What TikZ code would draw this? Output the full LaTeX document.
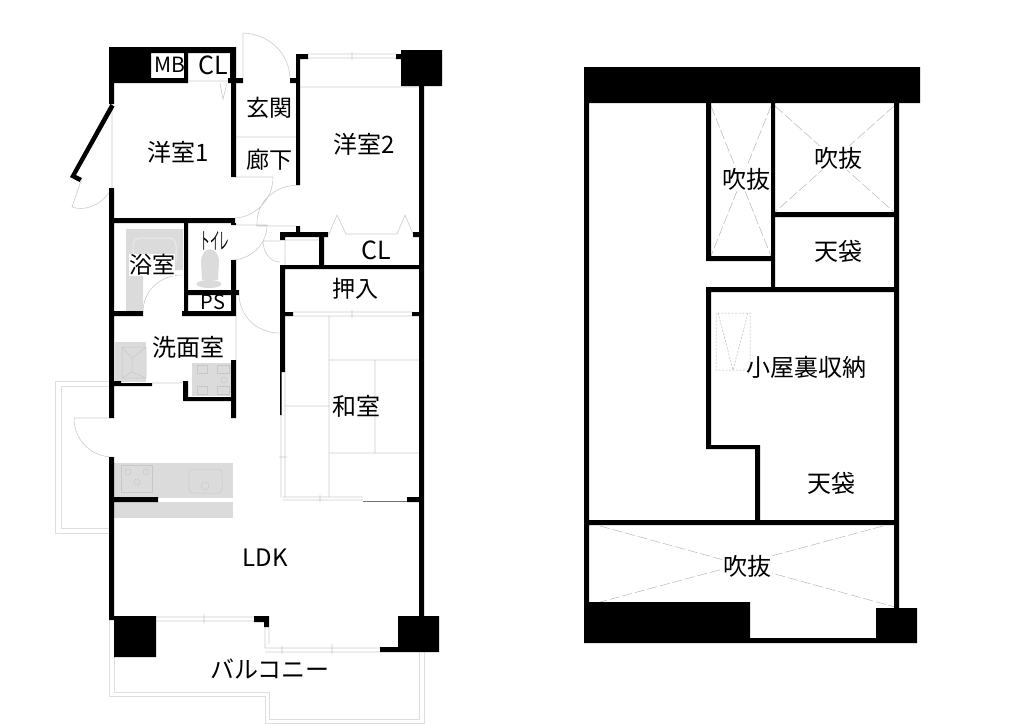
\documentclass[tikz,border=0pt]{standalone}
\usepackage{fontspec}
\setmainfont{Noto Sans CJK JP}
\begin{document}
\begin{tikzpicture}[x=1pt,y=-1pt,
                    wall/.style={fill=black},
                    thin line/.style={draw=black!20,line width=0.6pt},
                    rail/.style={draw=black!13,line width=1pt},
                    fixture/.style={fill=black!14},
                    fixture line/.style={draw=black!22,line width=0.5pt},
                    void line/.style={draw=black!28,line width=0.5pt,dash pattern=on 10pt off 3pt},
                    room/.style={font=\fontsize{24}{24}\selectfont,inner sep=0pt},
                    small room/.style={font=\fontsize{23}{23}\selectfont,inner sep=0pt},
                    masked room/.style={room,fill=white,inner sep=1pt}]

  \useasboundingbox[fill=white] (0,0) rectangle (1024,723);

  % balconies
  \path[rail]
    (109,381) -- (55,381) -- (55,533) -- (109,533)
    (109,386) -- (61,386) -- (61,528) -- (109,528)
    (109,620) -- (109,696) -- (265,696) -- (265,723) -- (424,723) -- (424,652)
    (114,657) -- (114,692) -- (269,692) -- (269,719) -- (419,719) -- (419,652);

  % fixtures
  \fill[fixture] (126,229) -- (183,229) -- (183,270) -- (143,270) -- (143,312) -- (126,312) -- cycle;
  \draw[draw=black!8,line width=1pt,rounded corners=7pt] (133,262) -- (133,238) -- (176,238) -- (176,262);
  \fill[fixture] (201,262) .. controls (201,245) and (219,245) .. (219,262) -- (218,280) -- (202,280) -- cycle;
  \fill[fixture] (209,284) ellipse (12.5 and 4);
  \fill[fixture] (115,342) rectangle (146,382);
  \path[fixture line] (122,347) rectangle (146,378) (122,347) -- (132,358) -- (132,372) -- (122,378) (146,347) -- (132,358) (132,372) -- (146,378);
  \fill[fixture] (192,363) rectangle (231,396);
  \path[fixture line] (197,365) rectangle (207,373) (217,365) rectangle (229,373) (197,386) rectangle (207,394) (217,386) rectangle (229,394);
  \draw[fixture line] (224,380) circle (3);
  \fill[fixture] (114,463) rectangle (233,498);
  \fill[fixture] (114,502) rectangle (233,518);
  \path[fixture line] (121,465) rectangle (152,492);
  \draw[fixture line] (128,472) circle (3) (146,472) circle (3) (137,482) circle (3);
  \draw[fixture line,rounded corners=4pt] (189,469) rectangle (222,493);
  \draw[fixture line] (205,486) circle (4);

  % thin lines of floors, windows and doors
  \path[thin line]
    (236,137) -- (296,137)
    (300,87) -- (419,87)
    (112,104) -- (112,187)
    (236,316) -- (236,360)
    (152,383) -- (183,383)
    (308,54) -- (396,54) (308,58) -- (396,58) (352,52) -- (352,60)
    (293,312) -- (412,312) (293,316) -- (412,316) (352,310) -- (352,318)
    (329,316) -- (329,497)
    (375,360) -- (375,453)
    (329,360) -- (419,360)
    (329,453) -- (419,453)
    (285,406) -- (329,406)
    (285,372) -- (285,497)
    (281,415) -- (281,497) (279,457) -- (287,457)
    (283,497) -- (363,497) (283,500) -- (363,500) (320,495) -- (320,502)
    (156,617) -- (254,617) (156,621) -- (254,621) (204,614) -- (204,623)
    (265,622) -- (265,648) (269,627) -- (269,644)
    (265,648) -- (380,648) (265,652) -- (380,652) (282,646) -- (282,654) (332,644) -- (332,654)
    (188,81) -- (230,81) (220,83) -- (223,99) -- (227,83)
    (329,234) -- (337,215) -- (346,234) -- (397,234) -- (405,215) -- (413,234)
    (285,240) -- (285,265) (285,240) -- (319,240);
  \path[thin line]
    (243,78) -- (243,33) .. controls (268,34) and (289,52) .. (290,78)
    (82,178) -- (72,207) .. controls (85,212) and (105,204) .. (112,187)
    (235,177) -- (273,177) .. controls (273,200) and (255,217) .. (235,218)
    (300,185) .. controls (274,185) and (257,202) .. (257,223) -- (257,226) -- (296,226)
    (236,225) -- (267,225) .. controls (267,245) and (250,260) .. (231,260)
    (280,241) -- (263,241) .. controls (263,252) and (270,262) .. (280,262)
    (239,295) .. controls (240,317) and (257,333) .. (280,333)
    (143,312) .. controls (143,291) and (160,275) .. (182,275)
    (109,418) -- (74,418) .. controls (74,440) and (91,457) .. (113,457);

  % walls
  \path[wall]
    (109,47) rectangle (236,53)
    (109,53) rectangle (151,83)
    (151,78) rectangle (188,83)
    (184,53) rectangle (188,83)
    (230,53) rectangle (236,80)
    (231,80) rectangle (236,177)
    (228,78) rectangle (243,83)
    (109,83) rectangle (114,104)
    (109,188) rectangle (114,418)
    (109,457) rectangle (114,620)
    (109,218) rectangle (235,223)
    (231,223) rectangle (236,225)
    (184,223) rectangle (188,315)
    (231,260) rectangle (236,316)
    (184,290) rectangle (239,295)
    (182,311) rectangle (236,316)
    (109,311) rectangle (143,316)
    (114,381) rectangle (121,386)
    (121,383) rectangle (152,386)
    (183,381) rectangle (188,401)
    (183,397) rectangle (236,401)
    (231,360) rectangle (236,418)
    (109,497) rectangle (158,502)
    (114,616) rectangle (156,657)
    (254,616) rectangle (269,622)
    (264,616) rectangle (269,627)
    (398,616) rectangle (439,652)
    (380,647) rectangle (398,652)
    (419,85) rectangle (424,617)
    (401,50) rectangle (442,86)
    (296,54) rectangle (300,185)
    (296,54) rectangle (308,59)
    (396,54) rectangle (401,59)
    (290,78) rectangle (296,83)
    (296,226) rectangle (300,232)
    (280,232) rectangle (328,237)
    (413,232) rectangle (419,237)
    (319,232) rectangle (324,265)
    (280,265) rectangle (424,269)
    (280,232) rectangle (285,240)
    (280,265) rectangle (285,372)
    (280,372) rectangle (281.5,415)
    (285,312) rectangle (293,316)
    (412,312) rectangle (419,316)
    (407,497) rectangle (424,502);
  \fill[black!55] (363,500.5) rectangle (407,502);
  \fill[wall] (110.5,104) -- (114.5,106.5) -- (76,175) -- (82,178) -- (79.5,182) -- (70,177) -- cycle;

  % upper floor
  \path[void line]
    (711,106) -- (771,256) (771,106) -- (711,256)
    (775,106) -- (894,212) (894,106) -- (775,212)
    (600,526) -- (895,607) (883,526) -- (600,602);
  \draw[void line,dash pattern=on 2pt off 1.5pt] (716,313) rectangle (750,370)
    (718,313) -- (733,370) -- (748,313);
  \path[wall]
    (584,67) rectangle (920,103)
    (584,103) rectangle (589,602)
    (706,103) rectangle (711,261)
    (706,256) rectangle (775,261)
    (771,103) rectangle (775,292)
    (894,103) rectangle (899,608)
    (771,212) rectangle (899,217)
    (706,287) rectangle (899,292)
    (706,292) rectangle (711,449)
    (706,445) rectangle (760,449)
    (755,449) rectangle (760,525)
    (584,520) rectangle (899,525)
    (584,602) rectangle (750,643)
    (750,638) rectangle (876,643)
    (876,608) rectangle (917,643);

  % labels
  \node[small room,font=\fontsize{21}{21}\selectfont] (mb) at (170,65) {MB};
  \node[small room,font=\fontsize{25}{25}\selectfont] (cl1) at (213,65) {CL};
  \node[small room] (genkan) at (269,108) {玄関};
  \node[small room] (roka) at (269,160) {廊下};
  \node[room] (yoshitsu1) at (178,152) {洋室1};
  \node[room] (yoshitsu2) at (364,144) {洋室2};
  \node[small room,fill=white] (yokushitsu) at (152,265) {浴室};
  \node[small room] (toilet) at (215,241) {\scalebox{0.42}[1]{トイレ}};
  \node[small room,font=\fontsize{20}{20}\selectfont] (ps) at (213,302) {PS};
  \node[small room,font=\fontsize{25}{25}\selectfont] (cl2) at (376,250) {CL};
  \node[small room] (oshiire) at (355,289) {押入};
  \node[room] (senmen) at (188,347) {洗面室};
  \node[room] (washitsu) at (356,406) {和室};
  \node[room] (ldk) at (265,558) {LDK};
  \node[room] (balcony) at (270,669) {バルコニー};
  \node[masked room] (fukinuke1) at (746,179) {吹抜};
  \node[masked room] (fukinuke2) at (838,158) {吹抜};
  \node[room] (tenbukuro1) at (838,251) {天袋};
  \node[room] (koyaura) at (806,367) {小屋裏収納};
  \node[room] (tenbukuro2) at (831,483) {天袋};
  \node[masked room] (fukinuke3) at (747,566) {吹抜};
\end{tikzpicture}
\end{document}
